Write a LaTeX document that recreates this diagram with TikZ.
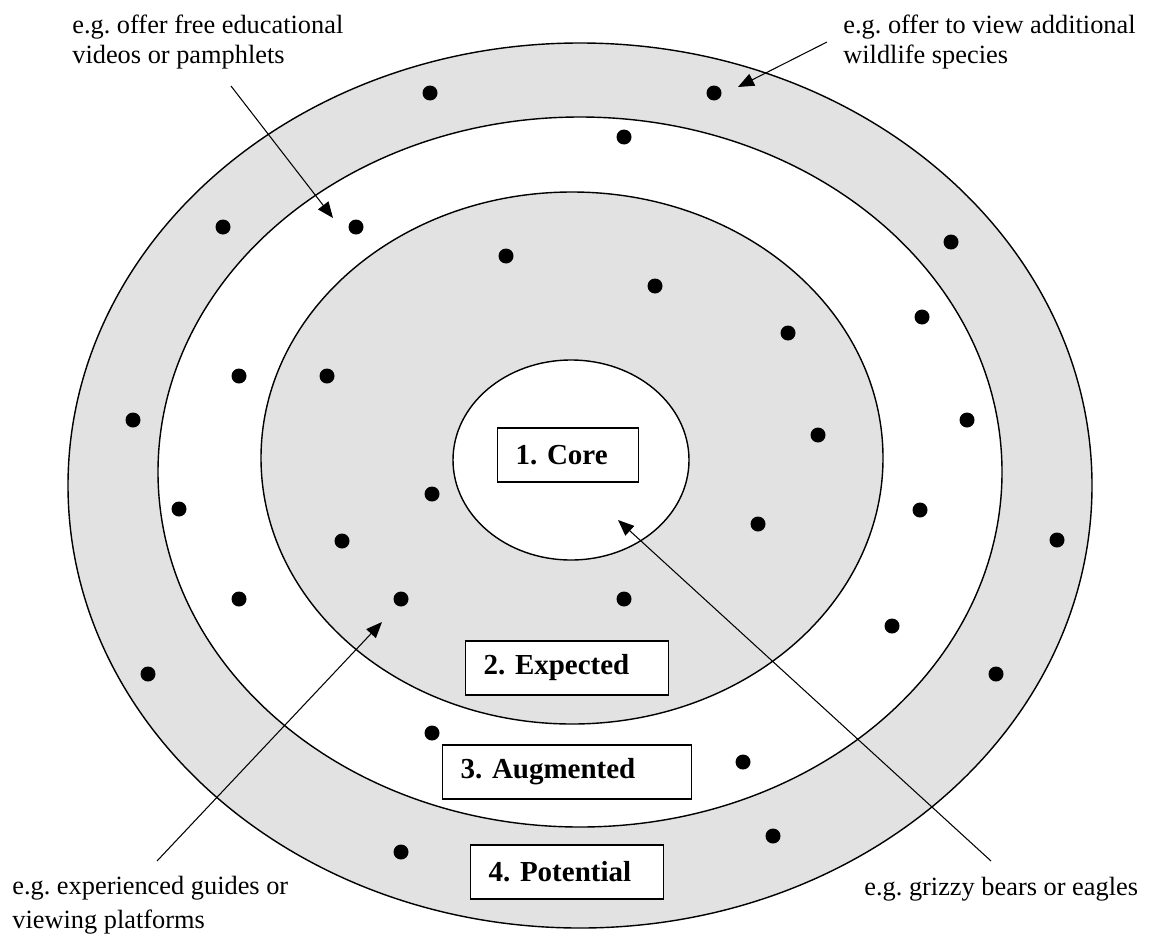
\documentclass[tikz,border=0pt]{standalone}
\usepackage{fontspec}
\setmainfont{Liberation Serif}
\usetikzlibrary{arrows.meta,positioning}
\definecolor{ringgray}{RGB}{226,226,226}
\frenchspacing

\begin{document}
\begin{tikzpicture}[x=0.02cm,y=-0.02cm,
  ring/.style={draw=black,line width=0.8pt},
  levelbox/.style={draw=black,fill=white,line width=0.7pt,anchor=west,align=left,
    inner xsep=0.36cm,inner ysep=0pt,minimum height=1.08cm,
    font=\fontsize{16.5}{18}\selectfont\bfseries},
  note/.style={align=left,inner sep=0pt,font=\fontsize{15}{17}\selectfont},
  pointer/.style={-{Triangle[length=0.32cm,width=0.26cm]},line width=0.6pt},
  dot/.style={circle,fill=black,inner sep=0pt,minimum size=0.3cm}]

\useasboundingbox (0,0) rectangle (1151,933);

% rings, from the outside in
\draw[ring,fill=ringgray] (580,485.5) ellipse [x radius=512, y radius=442.5];
\draw[ring,fill=white] (580,472) ellipse [x radius=422, y radius=355];
\draw[ring,fill=ringgray] (572,458) ellipse [x radius=311, y radius=266];
\draw[ring,fill=white] (571,460) ellipse [x radius=118, y radius=100];

% dots
\foreach \x/\y [count=\i] in {430/93,714/93,223/227,951/242,133/420,1057/540,148/674,996/674,773/836,401/852,
  624/137,356/227,922/317,239/376,967/420,179/509,920/510,239/599,892/626,432/733,743/762,
  506/256,655/286,788/333,327/376,818/435,432/494,758/524,342/541,401/599,624/599}
  \node[dot] (d\i) at (\x,\y) {};

\node[levelbox,text width=2.10cm] (core) at (497,455) {1. Core};
\node[levelbox,text width=3.34cm] (expected) at (465,668) {2. Expected};
\node[levelbox,text width=4.26cm] (augmented) at (442,772) {3. Augmented};
\node[levelbox,text width=3.14cm] (potential) at (470,872) {4. Potential};

\node[note,anchor=north west] (videos) at (72,15) {e.g. offer free educational\\videos or pamphlets};
\node[note,anchor=north west] (species) at (843,15) {e.g. offer to view additional\\wildlife species};
\node[note,anchor=north west,font=\fontsize{15}{19}\selectfont] (guides) at (12,876) {e.g. experienced guides or\\viewing platforms};
\node[note,anchor=base west] (bears) at (864,895) {e.g. grizzy bears or eagles};

\coordinate (videotail) at (231,86);
\coordinate (videotip) at (333,218);
\coordinate (speciestail) at (827,42);
\coordinate (speciestip) at (738,87);
\coordinate (guidetail) at (157,861);
\coordinate (guidetip) at (382,622);
\coordinate (beartail) at (991,861);
\coordinate (beartip) at (618,520);

\draw[pointer] (videotail) -- (videotip);
\draw[pointer] (speciestail) -- (speciestip);
\draw[pointer] (guidetail) -- (guidetip);
\draw[pointer] (beartail) -- (beartip);

\end{tikzpicture}
\end{document}
